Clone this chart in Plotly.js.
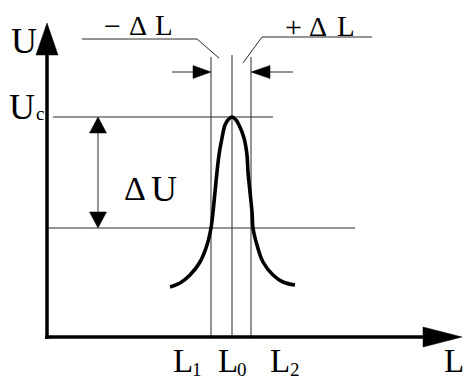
<!DOCTYPE html>
<html><head><meta charset="utf-8">
<script src="https://cdn.plot.ly/plotly-3.0.1.min.js"></script>
<style>html,body{margin:0;padding:0;background:#fff}</style>
</head><body>
<div id="chart" style="width:466px;height:380px"></div>
<script>
// Schematic values (data units; origin at the axis corner)
const L1 = 164, L0 = 185, L2 = 204;      // positions on L axis
const Uc = 220, Ulow = 109;              // peak level and lower threshold
const curveL = [123,133,143,153,160,164,166,168,170,172,175,178,181,185,189,192,197,200,201,203,205,206,210,216,226,236,248];
const curveU = [50,54,62,75,92,109,125,145,165,182,199,212,217,220,217,212,199,182,165,145,125,109,92,75,62,55,52];
const axisTopU = 314, axisEndL = 415;    // arrow tips of the axes
const dimArrowU = 265;                   // height of the ±ΔL dimension arrows
const dUArrowL = 51;                     // position of the ΔU arrow
const tickLabels = ['L', 'L', 'L'];
const tickSubs = ['1', '0', '2'];

const BLACK = '#000', THIN = '#2a2a2a';
const traces = [];
function line(xs, ys, w, c, shape) {
  traces.push({type:'scatter', mode:'lines', x:xs, y:ys, line:{width:w, color:c, shape:shape||'linear', smoothing:1}, hoverinfo:'skip', showlegend:false});
}
function tri(xs, ys) {
  traces.push({type:'scatter', mode:'lines', x:xs.concat([xs[0]]), y:ys.concat([ys[0]]), fill:'toself', fillcolor:BLACK, line:{width:0.5, color:BLACK}, hoverinfo:'skip', showlegend:false});
}

// axes
line([0,0], [-2, axisTopU-30], 3.5, BLACK);
tri([-11, 0, 11], [axisTopU-32, axisTopU, axisTopU-32]);
line([-2, axisEndL-38], [0,0], 3.5, BLACK);
tri([axisEndL-39, axisEndL, axisEndL-39], [-10, 0, 10]);
// vertical marker lines
line([L1,L1], [0, 280], 1, THIN);
line([L0,L0], [0, 282], 1, THIN);
line([L2,L2], [0, 280], 1, THIN);
// level lines
line([6, L2+22], [Uc, Uc], 1, THIN);
line([1, 308], [Ulow, Ulow], 1, THIN);
// ΔU double arrow
line([dUArrowL, dUArrowL], [Ulow+14, Uc-14], 1, THIN);
tri([dUArrowL-8.5, dUArrowL, dUArrowL+8.5], [Uc-16, Uc, Uc-16]);
tri([dUArrowL-8.5, dUArrowL, dUArrowL+8.5], [Ulow+16, Ulow, Ulow+16]);
// ±ΔL dimension arrows
line([L1-39, L1-15], [dimArrowU, dimArrowU], 1, THIN);
tri([L1-18, L1, L1-18], [dimArrowU+6.5, dimArrowU, dimArrowU-6.5]);
line([L2+42, L2+15], [dimArrowU, dimArrowU], 1, THIN);
tri([L2+19, L2, L2+19], [dimArrowU+6.5, dimArrowU, dimArrowU-6.5]);
// leader lines
line([35, 150, L1+8], [298, 298, 279], 1, THIN);
line([L2-8, 215, 325], [274, 300, 300], 1, THIN);
// resonance curve
line(curveL, curveU, 3.6, BLACK, 'spline');

const F = 'Liberation Serif';
const ann = [];
function txt(x, y, t, size, xa) {
  ann.push({x:x, y:y, text:t, showarrow:false, xanchor:xa||'center', yanchor:'middle', borderpad:0, font:{family:F, size:size, color:BLACK}});
}
// axis title U
txt(-23.5, 296.5, 'U', 36);
// U_c
txt(-25.5, 230.5, 'U', 36);
txt(-7, 224, 'c', 19);
// ΔU
txt(88, 148.5, 'Δ', 34);
txt(117, 148.5, 'U', 36);
// −ΔL
txt(65.5, 312, '−', 30);
txt(90.5, 312, 'Δ', 28);
txt(116.5, 312, 'L', 29);
// +ΔL
txt(246, 311, '+', 30);
txt(270.5, 311, 'Δ', 28);
txt(298.5, 311, 'L', 29);
// tick labels
const tickLX = [135.5, 181, 233];
const subDX = [14, 14, 15];
for (let i = 0; i < 3; i++) {
  txt(tickLX[i], -23.5, tickLabels[i], 33);
  txt(tickLX[i] + subDX[i], -32, tickSubs[i], 19);
}
txt(396, -23.5, 'L', 33, 'left');

const layout = {
  width:466, height:380, margin:{l:0, r:0, t:0, b:0},
  font:{family:F},
  paper_bgcolor:'#fff', plot_bgcolor:'#fff',
  xaxis:{range:[-47, 419], visible:false, fixedrange:true},
  yaxis:{range:[-43, 337], visible:false, fixedrange:true},
  annotations: ann, showlegend:false
};
Plotly.newPlot('chart', traces, layout, {staticPlot:true, displayModeBar:false});
</script>
</body></html>
